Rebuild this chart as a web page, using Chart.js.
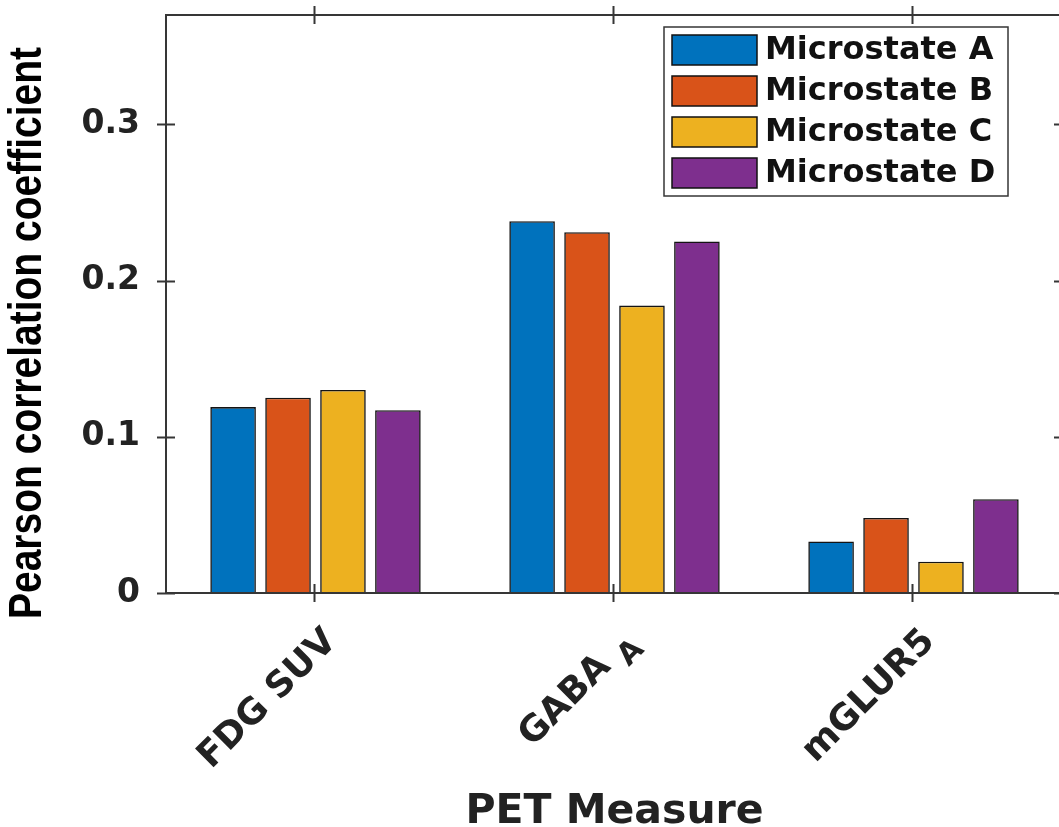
<!DOCTYPE html>
<html><head><meta charset="utf-8">
<script src="https://cdn.jsdelivr.net/npm/chart.js@4.4.1/dist/chart.umd.min.js"></script>
<style>html,body{margin:0;padding:0;background:#fff;overflow:hidden;} #wrap{width:1066px;height:827px;}</style>
</head><body><div id="wrap"><canvas id="c" width="1066" height="827"></canvas></div>
<script>
// ---- data ----
const categoryMain = ['FDG SUV', 'GABA ', 'mGLUR5'];
const categorySub = ['', 'A', ''];
const categories = ['FDG SUV', 'GABA A', 'mGLUR5'];
const seriesNames = ['Microstate A', 'Microstate B', 'Microstate C', 'Microstate D'];
const microstateA = [0.119, 0.238, 0.033];
const microstateB = [0.125, 0.231, 0.048];
const microstateC = [0.130, 0.184, 0.020];
const microstateD = [0.117, 0.225, 0.060];
const yTicks = [0, 0.1, 0.2, 0.3];
const yTickLabels = ['0', '0.1', '0.2', '0.3'];
const yAxisTitle = 'Pearson correlation coefficient';
const xAxisTitle = 'PET Measure';

// ---- styles ----
const colors = ['#0072BD', '#D95319', '#EDB120', '#7E2F8E'];
const seriesValues = [microstateA, microstateB, microstateC, microstateD];
const AXIS = '#363636';
const TEXT = '#222222';

const framePlugin = {
  id: 'frame',
  afterDatasetsDraw(chart) {
    const ctx = chart.ctx;
    const a = chart.chartArea;
    const xs = chart.scales.x, ys = chart.scales.y;
    ctx.save();
    // box
    ctx.strokeStyle = AXIS; ctx.lineWidth = 2;
    ctx.strokeRect(a.left, a.top, a.right - a.left, a.bottom - a.top);
    // ticks (both directions)
    const tl = 9;
    ctx.beginPath();
    yTicks.forEach(v => {
      const py = Math.round(ys.getPixelForValue(v)) + 0.5;
      ctx.moveTo(a.left - tl, py); ctx.lineTo(a.left + tl, py);
      ctx.moveTo(a.right - tl, py); ctx.lineTo(a.right + tl, py);
    });
    categories.forEach((c, i) => {
      const px = Math.floor(xs.getPixelForTick(i)) - 0.5;
      ctx.moveTo(px, a.top - tl); ctx.lineTo(px, a.top + tl);
      ctx.moveTo(px, a.bottom - tl); ctx.lineTo(px, a.bottom + tl);
    });
    ctx.stroke();

    // x tick labels (rotated, with subscript)
    ctx.fillStyle = TEXT;
    categories.forEach((c, i) => {
      const px = xs.getPixelForTick(i);
      ctx.save();
      ctx.translate(px + 16, a.bottom + 43);
      ctx.rotate(-Math.PI / 4);
      ctx.textAlign = 'right'; ctx.textBaseline = 'middle';
      let off = 0;
      if (categorySub[i]) {
        ctx.font = 'bold 30px "DejaVu Sans"';
        ctx.fillText(categorySub[i], 0, 13);
        off = ctx.measureText(categorySub[i]).width;
      }
      ctx.font = 'bold 36px "DejaVu Sans"';
      ctx.fillText(categoryMain[i], -off, 0);
      ctx.restore();
    });

    // y axis title (condensed bold)
    ctx.save();
    ctx.fillStyle = '#000';
    ctx.font = 'bold 47px "Liberation Sans Narrow", "Liberation Sans", Arial, sans-serif';
    const w = ctx.measureText(yAxisTitle).width;
    const s = 572 / w;
    ctx.translate(28.5, 333);
    ctx.rotate(-Math.PI / 2);
    ctx.scale(s, 1);
    ctx.textAlign = 'center'; ctx.textBaseline = 'middle';
    ctx.fillText(yAxisTitle, 0, 0);
    ctx.restore();

    // legend
    const L = {x: 664, y: 27, w: 344, h: 169};
    ctx.fillStyle = '#fff';
    ctx.fillRect(L.x, L.y, L.w, L.h);
    ctx.strokeStyle = AXIS; ctx.lineWidth = 1.5;
    ctx.strokeRect(L.x, L.y, L.w, L.h);
    chart.data.datasets.forEach((ds, i) => {
      const by = 35 + i * 41;
      ctx.fillStyle = ds.backgroundColor;
      ctx.fillRect(672, by, 85, 30);
      ctx.strokeStyle = '#111'; ctx.lineWidth = 1.5;
      ctx.strokeRect(672, by, 85, 30);
      ctx.fillStyle = '#111';
      ctx.font = 'bold 32px "DejaVu Sans"';
      ctx.textAlign = 'left'; ctx.textBaseline = 'middle';
      ctx.fillText(ds.label, 765, by + 16);
    });
    ctx.restore();
  }
};

new Chart(document.getElementById('c'), {
  type: 'bar',
  data: {
    labels: categories,
    datasets: seriesNames.map((n, i) => ({
      label: n,
      data: seriesValues[i],
      backgroundColor: colors[i],
      borderColor: '#141414',
      borderWidth: 1.6,
      categoryPercentage: 0.735,
      barPercentage: 0.83
    }))
  },
  options: {
    responsive: false,
    animation: false,
    devicePixelRatio: 1,
    layout: {padding: {left: 0, right: 3, top: 15, bottom: 0}},
    plugins: {legend: {display: false}, tooltip: {enabled: false}},
    scales: {
      x: {
        type: 'category',
        offset: true,
        grid: {display: false, drawTicks: false},
        border: {display: false},
        ticks: {display: false},
        title: {display: true, text: xAxisTitle, color: TEXT, padding: 0,
                font: {family: 'DejaVu Sans', weight: 'bold', size: 41, lineHeight: 0.73}},
        afterFit(s) { s.height = 234; s.paddingLeft = 0; s.paddingRight = 0; }
      },
      y: {
        min: 0, max: 0.37,
        grid: {display: false, drawTicks: false},
        border: {display: false},
        afterBuildTicks(s) { s.ticks = yTicks.map(v => ({value: v})); },
        ticks: {
          padding: 26, color: TEXT,
          font: {family: 'DejaVu Sans', weight: 'bold', size: 33, lineHeight: 1},
          callback(v) { const k = yTicks.findIndex(t => Math.abs(t - v) < 1e-9); return k >= 0 ? yTickLabels[k] : ''; }
        },
        afterFit(s) { s.width = 166; s.paddingTop = 0; s.paddingBottom = 0; }
      }
    }
  },
  plugins: [framePlugin]
});
</script>
</body></html>
